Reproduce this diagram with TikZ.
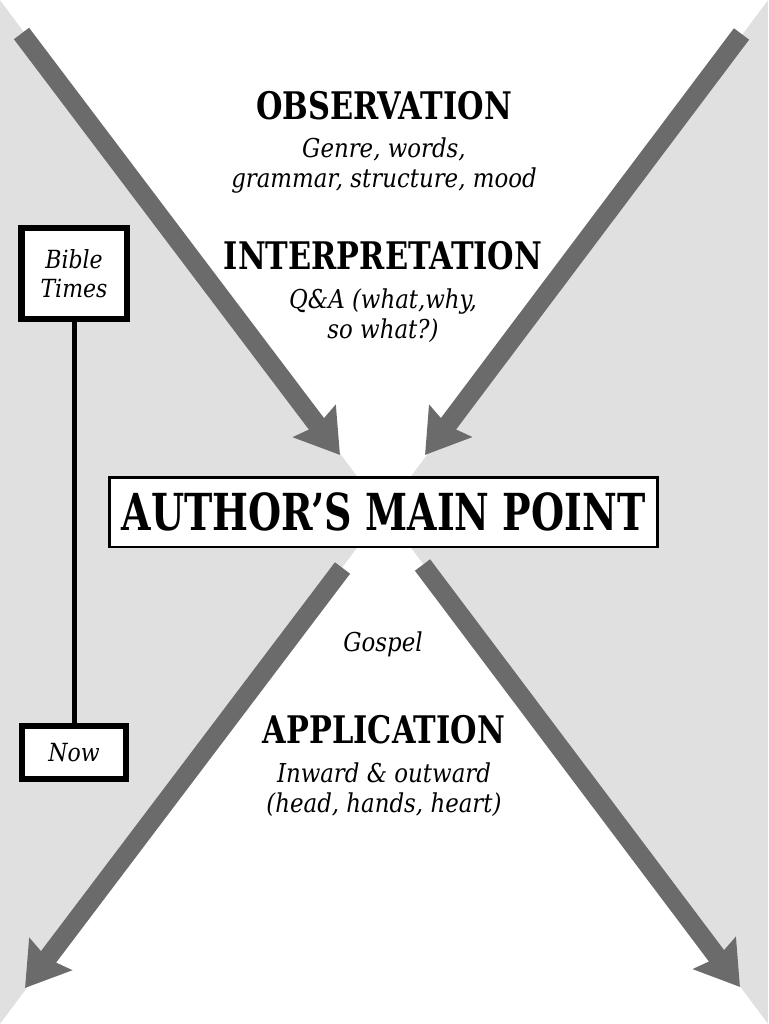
\documentclass[tikz,border=0pt]{standalone}
\usepackage{fontspec}
\setmainfont{DejaVu Serif}
\newfontfamily\headfont[FakeStretch=0.80]{DejaVu Serif}
\newfontfamily\boxfont[FakeStretch=0.745]{DejaVu Serif}
\newfontfamily\itfont[FakeStretch=0.88]{DejaVu Serif}
\usetikzlibrary{arrows.meta}
\definecolor{bggray}{HTML}{E0E0E0}
\definecolor{arrowgray}{HTML}{6B6B6B}
\tikzset{
  bigarrow/.style={draw=arrowgray, line width=19pt, line cap=butt,
    -{Stealth[length=42pt, width=52pt, inset=5pt]}},
  heading/.style={font={\headfont\bfseries\fontsize{38}{40}\selectfont}, inner sep=0pt},
  italtext/.style={font={\itfont\itshape\fontsize{26}{30}\selectfont}, inner sep=0pt, align=center},
  timebox/.style={draw=black, fill=white, line width=6.5pt, inner sep=0pt,
    font={\itfont\itshape\fontsize{25}{29}\selectfont}, align=center},
  mainbox/.style={draw=black, fill=white, line width=2.5pt, inner sep=0pt,
    minimum width=548pt, minimum height=69.5pt,
    font={\boxfont\bfseries\fontsize{51}{53}\selectfont}},
  timeline/.style={draw=black, line width=5pt}
}
\begin{document}
\begin{tikzpicture}[x=1pt,y=-1pt]
\useasboundingbox (0,0) rectangle (768,1024);
% background
\fill[bggray] (0,0) rectangle (768,1024);
\fill[white] (0,0) -- (768,0) -- (384,512) -- cycle;
\fill[white] (0,1024) -- (768,1024) -- (384,512) -- cycle;
% arrow endpoints
\coordinate (tlS) at (21.5,33.5);
\coordinate (tlE) at (340,455);
\coordinate (trS) at (741.5,34);
\coordinate (trE) at (425,455);
\coordinate (blS) at (342.5,568);
\coordinate (blE) at (25,988);
\coordinate (brS) at (422.5,565);
\coordinate (brE) at (740,987);
\draw[bigarrow] (tlS) -- (tlE);
\draw[bigarrow] (trS) -- (trE);
\draw[bigarrow] (blS) -- (blE);
\draw[bigarrow] (brS) -- (brE);
% texts (base anchor = baseline of the last line)
\node[heading] (obs) at (384,106) {OBSERVATION};
\node[italtext, anchor=base] (obst) at (384,188) {Genre, words,\\grammar, structure, mood};
\node[heading] (interp) at (383,256) {INTERPRETATION};
\node[italtext, anchor=base] (interpt) at (383,338) {Q\&A (what,why,\\so what?)};
\node[mainbox] (main) at (383.5,512) {AUTHOR’S MAIN POINT};
\node[italtext, anchor=base] (gospel) at (383,651) {Gospel};
\node[heading] (app) at (384,730) {APPLICATION};
\node[italtext, anchor=base] (appt) at (384,812) {Inward \& outward\\(head, hands, heart)};
% timeline
\node[timebox, minimum width=105.5pt, minimum height=90.5pt] (bible) at (74,273.5) {Bible\\Times};
\node[timebox, minimum width=104pt, minimum height=53pt] (now) at (74,752.5) {Now};
\draw[timeline] (bible.south) -- (now.north);
\end{tikzpicture}
\end{document}
